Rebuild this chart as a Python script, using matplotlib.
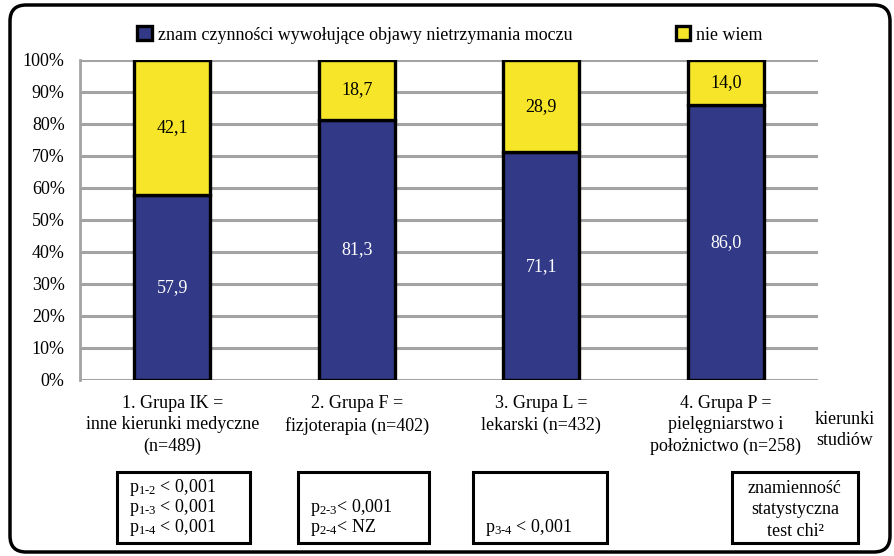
import matplotlib
matplotlib.use("Agg")
import matplotlib.pyplot as plt
import numpy as np
from matplotlib.patches import FancyBboxPatch, Rectangle
from matplotlib.ticker import PercentFormatter

plt.rcParams['font.family'] = ['Liberation Serif', 'DejaVu Serif']
plt.rcParams['mathtext.fontset'] = 'custom'
plt.rcParams['mathtext.rm'] = 'Liberation Serif'

groups = ["1. Grupa IK =\ninne kierunki medyczne\n(n=489)",
          "2. Grupa F =\nfizjoterapia (n=402)",
          "3. Grupa L =\nlekarski (n=432)",
          "4. Grupa P =\npielęgniarstwo i\npołożnictwo (n=258)"]
znam = [57.9, 81.3, 71.1, 86.0]
nie_wiem = [42.1, 18.7, 28.9, 14.0]
series_names = ["znam czynności wywołujące objawy nietrzymania moczu", "nie wiem"]
yticks = [0, 10, 20, 30, 40, 50, 60, 70, 80, 90, 100]
pvals = [
    [r"$\mathregular{p_{1\text{-}2}}$ < 0,001",
     r"$\mathregular{p_{1\text{-}3}}$ < 0,001",
     r"$\mathregular{p_{1\text{-}4}}$ < 0,001"],
    [r"$\mathregular{p_{2\text{-}3}}$< 0,001",
     r"$\mathregular{p_{2\text{-}4}}$< NZ"],
    [r"$\mathregular{p_{3\text{-}4}}$ < 0,001"],
]
note = "znamienność\nstatystyczna\ntest chi²"
axis_note = "kierunki\nstudiów"

BLUE = "#323a87"
YELLOW = "#f7e52a"
GRID = "#a3a3a3"
FS = 13

W, H = 895, 556
fig = plt.figure(figsize=(W / 100, H / 100), dpi=100)


def fx(x):
    return x / W


def fy(y):
    return 1 - y / H


ax = fig.add_axes([fx(80), fy(380), fx(738), 320 / H])
x = np.arange(len(groups))
bw = 0.41
b1 = ax.bar(x, znam, bw, color=BLUE, edgecolor="black", linewidth=2.4, zorder=3,
            label=series_names[0])
b2 = ax.bar(x, nie_wiem, bw, bottom=znam, color=YELLOW, edgecolor="black",
            linewidth=2.4, zorder=3, label=series_names[1])

for xi, a, b in zip(x, znam, nie_wiem):
    ax.text(xi, a / 2, f"{a:.1f}".replace(".", ","), ha="center", va="center",
            color="white", fontsize=FS, zorder=4)
    ax.text(xi, a + b / 2, f"{b:.1f}".replace(".", ","), ha="center", va="center",
            color="black", fontsize=FS, zorder=4)

ax.set_xlim(-0.5, 3.5)
ax.set_ylim(0, 100)
ax.set_yticks(yticks)
ax.yaxis.set_major_formatter(PercentFormatter(decimals=0))
ax.tick_params(axis="y", length=0, labelsize=FS, pad=11)
ax.set_xticks(x)
ax.set_xticklabels(groups, fontsize=FS, va="top")
for lbl in ax.get_xticklabels():
    lbl.set_linespacing(1.32)
ax.tick_params(axis="x", length=0, pad=11)
ax.yaxis.grid(True, color=GRID, linewidth=2.2, zorder=0)
for s in ["top", "right", "bottom"]:
    ax.spines[s].set_visible(False)
ax.spines["left"].set_color(GRID)
ax.spines["left"].set_linewidth(2)

fig.legend(handles=[b1, b2], loc="center left", bbox_to_anchor=(fx(121), fy(35)),
           ncol=2, frameon=False, fontsize=FS, handlelength=0.8, handleheight=0.8,
           handletextpad=0.35, columnspacing=5.7)

fig.text(fx(845), fy(430), axis_note, ha="center", va="center", fontsize=FS,
         linespacing=1.35)

# outer rounded frame
fig.add_artist(FancyBboxPatch((fx(10), fy(552)), fx(880), 547 / H,
                              boxstyle="round,pad=0,rounding_size=0.018",
                              transform=fig.transFigure, fill=False,
                              edgecolor="black", linewidth=2.5,
                              mutation_aspect=W / H))

# significance boxes
boxes = [(117, 250), (298, 429), (473, 607), (732, 858)]
for (x0, x1) in boxes:
    fig.add_artist(Rectangle((fx(x0), fy(543)), fx(x1 - x0), 71 / H,
                             transform=fig.transFigure, fill=False,
                             edgecolor="black", linewidth=2.2))

line_y = [487, 507, 527]
for i, lines in enumerate(pvals):
    x0 = boxes[i][0] + 12
    start = 3 - len(lines)
    for j, t in enumerate(lines):
        fig.text(fx(x0), fy(line_y[start + j]), t, ha="left", va="center",
                 fontsize=FS)

fig.text(fx(795), fy(510), note, ha="center", va="center", fontsize=FS,
         linespacing=1.35)

fig.savefig("out.png", dpi=100)
